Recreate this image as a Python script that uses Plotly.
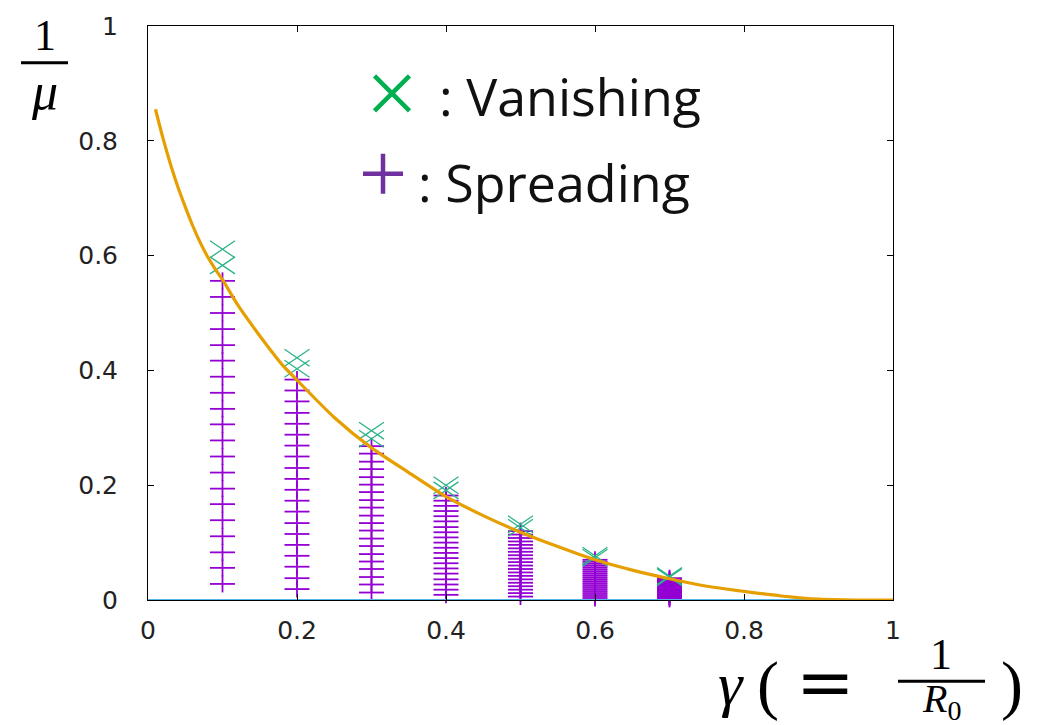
import plotly.graph_objects as go

# ---- data ---------------------------------------------------------------
# gamma values at which the (1/mu) scan was run
gamma = [0.1, 0.2, 0.3, 0.4, 0.5, 0.6, 0.7]

# 1/mu values where the epidemic keeps spreading (one list per gamma)
spread_g01 = [0.028, 0.056, 0.083, 0.111, 0.139, 0.167, 0.194, 0.222, 0.250, 0.278,
              0.306, 0.333, 0.361, 0.389, 0.417, 0.444, 0.472, 0.500, 0.528, 0.556]
spread_g02 = [0.019, 0.038, 0.058, 0.077, 0.096, 0.115, 0.134, 0.154, 0.173, 0.192,
              0.211, 0.230, 0.250, 0.269, 0.288, 0.307, 0.326, 0.346, 0.365, 0.384]
spread_g03 = [0.013, 0.027, 0.040, 0.054, 0.067, 0.080, 0.094, 0.107, 0.121, 0.134,
              0.147, 0.161, 0.174, 0.188, 0.201, 0.214, 0.228, 0.241, 0.255, 0.268]
spread_g04 = [0.009, 0.018, 0.027, 0.036, 0.046, 0.055, 0.064, 0.073, 0.082, 0.091,
              0.100, 0.109, 0.118, 0.127, 0.137, 0.146, 0.155, 0.164, 0.173, 0.182]
spread_g05 = [0.006, 0.012, 0.018, 0.024, 0.030, 0.036, 0.042, 0.048, 0.054, 0.060,
              0.066, 0.072, 0.078, 0.084, 0.090, 0.096, 0.102, 0.108, 0.114, 0.120]
spread_g06 = [0.0035, 0.0070, 0.0105, 0.0140, 0.0175, 0.0210, 0.0245, 0.0280, 0.0315, 0.0350,
              0.0385, 0.0420, 0.0455, 0.0490, 0.0525, 0.0560, 0.0595, 0.0630, 0.0665, 0.0700]
spread_g07 = [0.0019, 0.0038, 0.0057, 0.0076, 0.0095, 0.0114, 0.0133, 0.0152, 0.0171, 0.0190,
              0.0209, 0.0228, 0.0247, 0.0266, 0.0285, 0.0304, 0.0323, 0.0342, 0.0361, 0.0380]

# 1/mu values where the epidemic dies out
vanish_g01 = [0.583, 0.611]
vanish_g02 = [0.403, 0.422]
vanish_g03 = [0.281, 0.295]
vanish_g04 = [0.191, 0.200]
vanish_g05 = [0.126, 0.132]
vanish_g06 = [0.0735, 0.0770]
vanish_g07 = [0.0399, 0.0418]

# theoretical threshold curve 1/mu(gamma)
curve_gamma = [0.01, 0.02, 0.03, 0.04, 0.05, 0.06, 0.07, 0.08, 0.09, 0.10, 0.12, 0.14,
               0.16, 0.18, 0.20, 0.25, 0.30, 0.35, 0.40, 0.45, 0.50, 0.55, 0.60, 0.65,
               0.70, 0.75, 0.80, 0.85, 0.90, 0.95, 1.00]
curve_inv_mu = [0.855, 0.805, 0.760, 0.720, 0.685, 0.652, 0.623, 0.598, 0.577, 0.558,
                0.515, 0.478, 0.443, 0.410, 0.383, 0.318, 0.265, 0.222, 0.180, 0.147,
                0.118, 0.093, 0.070, 0.052, 0.037, 0.024, 0.015, 0.007, 0.0015, 0.0, 0.0]

# zero level
base_gamma = [0.0, 1.0]
base_level = [0.0, 0.0]

x_ticks = [0, 0.2, 0.4, 0.6, 0.8, 1]
y_ticks = [0, 0.2, 0.4, 0.6, 0.8, 1]
tick_text = ["0", "0.2", "0.4", "0.6", "0.8", "1"]

spread_cols = [spread_g01, spread_g02, spread_g03, spread_g04, spread_g05, spread_g06, spread_g07]
vanish_cols = [vanish_g01, vanish_g02, vanish_g03, vanish_g04, vanish_g05, vanish_g06, vanish_g07]

sx, sy = [], []
for g, col in zip(gamma, spread_cols):
    sx += [g] * len(col)
    sy += col
vx, vy = [], []
for g, col in zip(gamma, vanish_cols):
    vx += [g] * len(col)
    vy += col

# ---- styling ------------------------------------------------------------
W, H = 1045, 725
L, R, T, B = 148, 893, 21, 600          # plot-area pixel box
PURPLE = "#9400d3"
GREEN = "#2bb38a"
ORANGE = "#e69f00"
SKY = "#56b4e9"


def px(x):
    return (x - L) / (R - L)


def py(y):
    return (B - y) / (B - T)


fig = go.Figure()

# "+" markers: horizontal and vertical strokes with different lengths
fig.add_trace(go.Scatter(
    x=sx, y=sy, mode="markers", cliponaxis=False, hoverinfo="skip",
    marker=dict(symbol="line-ew", size=25 / 1.4, line=dict(color=PURPLE, width=1.8))))
fig.add_trace(go.Scatter(
    x=sx, y=sy, mode="markers", cliponaxis=False, hoverinfo="skip",
    marker=dict(symbol="line-ns", size=17 / 1.4, line=dict(color=PURPLE, width=1.8))))

# "x" markers: two tilted strokes
for ang in (34.2, -34.2):
    fig.add_trace(go.Scatter(
        x=vx, y=vy, mode="markers", cliponaxis=False, hoverinfo="skip",
        marker=dict(symbol="line-ew", size=30.2 / 1.4, angle=ang,
                    line=dict(color=GREEN, width=1.3))))

fig.add_trace(go.Scatter(x=base_gamma, y=base_level, mode="lines",
                         line=dict(color=SKY, width=2), hoverinfo="skip"))
fig.add_trace(go.Scatter(x=curve_gamma, y=curve_inv_mu, mode="lines",
                         line=dict(color=ORANGE, width=3.2, shape="spline", smoothing=0.6),
                         hoverinfo="skip"))

# legend glyphs
fig.add_trace(go.Scatter(
    x=[px(392)], y=[py(89)], mode="markers", cliponaxis=False, hoverinfo="skip",
    marker=dict(symbol="x-thin", size=35, line=dict(color="#00b050", width=4.5))))
fig.add_trace(go.Scatter(
    x=[px(383)], y=[py(170)], mode="markers", cliponaxis=False, hoverinfo="skip",
    marker=dict(symbol="cross-thin", size=40 / 1.4, line=dict(color="#7030a0", width=4.5))))

axis_common = dict(
    range=[0, 1], showgrid=False, zeroline=False,
    showline=True, linecolor="black", linewidth=1, mirror="allticks",
    ticks="inside", ticklen=6, tickcolor="black", tickwidth=1,
    tickfont=dict(family="'DejaVu Sans', Verdana, sans-serif", size=25, color="#222"),
)
fig.update_xaxes(**axis_common, tickvals=x_ticks, ticktext=tick_text, ticklabelstandoff=8)
fig.update_yaxes(**axis_common, tickvals=y_ticks, ticktext=tick_text, ticklabelstandoff=24)

SERIF = "Liberation Serif"
ann = []
# legend text
ann.append(dict(x=px(437), y=py(91), text=": Vanishing", xanchor="left", yanchor="middle",
                font=dict(family="Open Sans", size=52, color="#111")))
ann.append(dict(x=px(416), y=py(178), text=": Spreading", xanchor="left", yanchor="middle",
                font=dict(family="Open Sans", size=52, color="#111")))
# y-axis label 1/mu
ann.append(dict(x=px(45), y=py(31), text="1", xanchor="center", yanchor="middle",
                font=dict(family=SERIF, size=44, color="black")))
ann.append(dict(x=px(45), y=py(87), text="<i>μ</i>", xanchor="center", yanchor="middle",
                font=dict(family=SERIF, size=52, color="black")))
# x-axis label gamma(= 1/R0)
ann.append(dict(x=px(731), y=py(685), text="<i>γ</i>", xanchor="center", yanchor="middle",
                font=dict(family=SERIF, size=62, color="black")))
ann.append(dict(x=px(768), y=py(686), text="(", xanchor="center", yanchor="middle",
                font=dict(family=SERIF, size=66, color="black")))
ann.append(dict(x=px(825), y=py(683), text="=", xanchor="center", yanchor="middle",
                font=dict(family="DejaVu Serif", size=70, color="black")))
ann.append(dict(x=px(941), y=py(655), text="1", xanchor="center", yanchor="middle",
                font=dict(family=SERIF, size=44, color="black")))
ann.append(dict(x=px(941), y=py(702), text="<i>R</i><sub>0</sub>", xanchor="center",
                yanchor="middle", font=dict(family=SERIF, size=40, color="black")))
ann.append(dict(x=px(1012), y=py(686), text=")", xanchor="center", yanchor="middle",
                font=dict(family=SERIF, size=66, color="black")))
for a in ann:
    a.update(xref="paper", yref="paper", showarrow=False)

shapes = [
    dict(type="line", xref="paper", yref="paper", x0=px(21), x1=px(68), y0=py(58), y1=py(58),
         line=dict(color="black", width=3)),
    dict(type="line", xref="paper", yref="paper", x0=px(898), x1=px(985), y0=py(682), y1=py(682),
         line=dict(color="black", width=3)),
]

fig.update_layout(
    width=W, height=H, showlegend=False,
    margin=dict(l=L, r=W - R, t=T, b=H - B, pad=0),
    paper_bgcolor="white", plot_bgcolor="white",
    annotations=ann, shapes=shapes,
)

fig.write_html("out.html")
